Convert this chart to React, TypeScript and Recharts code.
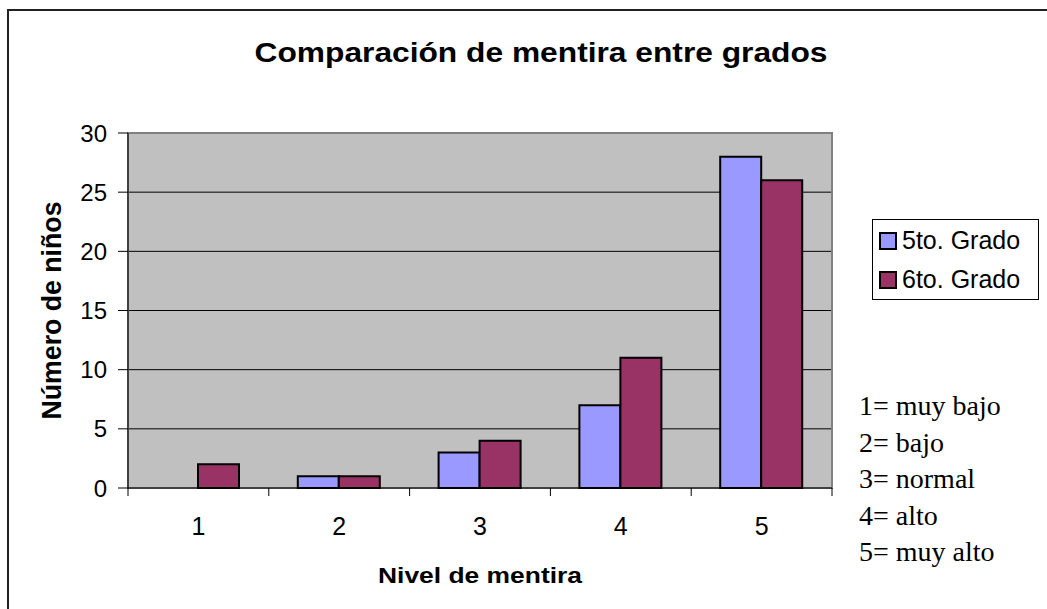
import React from "react";
import {
  BarChart,
  Bar,
  XAxis,
  YAxis,
  CartesianGrid,
  Legend,
  ReferenceArea,
  Label,
  Customized,
} from "recharts";

// valores
const niveles = ["1", "2", "3", "4", "5"];
const quintoGrado = [0, 1, 3, 7, 28];
const sextoGrado = [2, 1, 4, 11, 26];
const yTicks = [0, 5, 10, 15, 20, 25, 30];
const notas = ["1= muy bajo", "2= bajo", "3= normal", "4= alto", "5= muy alto"];

const SERIE_5 = "5to. Grado";
const SERIE_6 = "6to. Grado";
const colores: Record<string, string> = {
  [SERIE_5]: "#9999FF",
  [SERIE_6]: "#993366",
};

const data = niveles.map((nivel, i) => ({
  nivel,
  quinto: quintoGrado[i],
  sexto: sextoGrado[i],
}));

const W = 1047;
const H = 609;
const Y_AXIS_W = 128;
const MARGIN = { top: 133, right: 215, bottom: 0, left: 0 };
const PLOT_W = W - Y_AXIS_W - MARGIN.right;
const BAND = PLOT_W / niveles.length;

const SANS = "'Liberation Sans', Arial, sans-serif";
const SERIF = "'Liberation Serif', 'Times New Roman', serif";

const XTick = (props: any) => {
  const { x, y, payload, index } = props;
  const half = BAND / 2;
  return (
    <g>
      <line x1={x - half} x2={x - half} y1={y} y2={y + 8} stroke="#000" />
      {index === niveles.length - 1 && (
        <line x1={x + half} x2={x + half} y1={y} y2={y + 8} stroke="#000" />
      )}
      <text x={x} y={y + 47} textAnchor="middle" fontSize={25} fontFamily={SANS} fill="#000">
        {payload.value}
      </text>
    </g>
  );
};

const renderLegend = (props: any) => (
  <div
    style={{
      border: "1px solid #000",
      background: "#fff",
      width: 165,
      height: 78,
      paddingTop: 1,
      boxSizing: "content-box",
      fontFamily: SANS,
      fontSize: 25,
      color: "#000",
    }}
  >
    {(props.payload || []).map((p: any) => (
      <div key={p.value} style={{ display: "flex", alignItems: "center", height: 39 }}>
        <span
          style={{
            display: "inline-block",
            width: 14,
            height: 14,
            border: "2px solid #000",
            background: colores[p.value],
            marginLeft: 6,
            marginRight: 5,
          }}
        />
        <span style={{ lineHeight: "39px" }}>{p.value}</span>
      </div>
    ))}
  </div>
);

const Textos = () => (
  <g>
    <text
      x={541}
      y={62}
      textAnchor="middle"
      fontSize={28}
      fontWeight="bold"
      fontFamily={SANS}
      fill="#000"
      textLength={573}
      lengthAdjust="spacingAndGlyphs"
    >
      Comparación de mentira entre grados
    </text>
    {notas.map((t, i) => (
      <text key={t} x={859} y={415 + i * 36.6} fontSize={28} fontFamily={SERIF} fill="#000">
        {t}
      </text>
    ))}
  </g>
);

export default function App() {
  return (
    <div
      style={{
        position: "absolute",
        left: 0,
        top: 0,
        width: W,
        height: H,
        overflow: "hidden",
        background: "#fff",
      }}
    >
      <div
        style={{
          position: "absolute",
          left: 7,
          top: 9,
          width: 1100,
          height: 700,
          borderLeft: "2px solid #222",
          borderTop: "2px solid #222",
        }}
      />
      <div style={{ position: "absolute", left: 0, top: 0 }}>
        <BarChart width={W} height={H} data={data} margin={MARGIN} barGap={0} barSize={41}>
          <CartesianGrid vertical={false} stroke="#000" fill="#C0C0C0" />
          <ReferenceArea y1={0} y2={30} fill="none" stroke="#808080" strokeWidth={2} />
          <Bar
            dataKey="quinto"
            name={SERIE_5}
            fill={colores[SERIE_5]}
            stroke="#000"
            strokeWidth={2}
            isAnimationActive={false}
          />
          <Bar
            dataKey="sexto"
            name={SERIE_6}
            fill={colores[SERIE_6]}
            stroke="#000"
            strokeWidth={2}
            isAnimationActive={false}
          />
          <XAxis
            dataKey="nivel"
            height={121}
            axisLine={{ stroke: "#000" }}
            tickLine={false}
            tickSize={0}
            tickMargin={0}
            tick={<XTick />}
            interval={0}
          >
            <Label
              content={(p: any) => {
                const vb = p.viewBox || {};
                return (
                  <text
                    x={vb.x + vb.width / 2}
                    y={583}
                    textAnchor="middle"
                    fontSize={22}
                    fontWeight="bold"
                    fontFamily={SANS}
                    fill="#000"
                    textLength={204}
                    lengthAdjust="spacingAndGlyphs"
                  >
                    Nivel de mentira
                  </text>
                );
              }}
            />
          </XAxis>
          <YAxis
            width={Y_AXIS_W}
            domain={[0, 30]}
            ticks={yTicks}
            interval={0}
            axisLine={{ stroke: "#000" }}
            tickLine={{ stroke: "#000" }}
            tickSize={10}
            tickMargin={11}
            tick={{ fontSize: 24, fontFamily: SANS, fill: "#000" }}
          >
            <Label
              content={(p: any) => {
                const vb = p.viewBox || {};
                const cy = vb.y + vb.height / 2;
                return (
                  <text
                    x={61}
                    y={cy}
                    transform={`rotate(-90 61 ${cy})`}
                    textAnchor="middle"
                    fontSize={27}
                    fontWeight="bold"
                    fontFamily={SANS}
                    fill="#000"
                    textLength={218}
                    lengthAdjust="spacingAndGlyphs"
                  >
                    Número de niños
                  </text>
                );
              }}
            />
          </YAxis>
          <Legend
            layout="horizontal"
            verticalAlign="middle"
            align="center"
            content={renderLegend}
            wrapperStyle={{ position: "absolute", left: 872, top: 219, width: 167, height: 80 }}
          />
          <Customized component={<Textos />} />
        </BarChart>
      </div>
    </div>
  );
}
